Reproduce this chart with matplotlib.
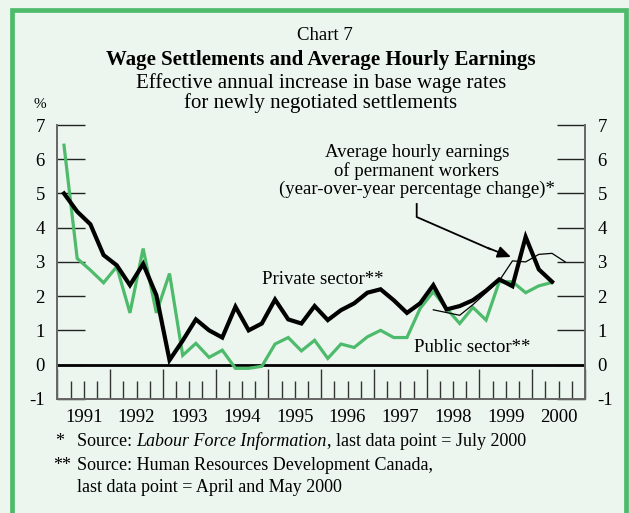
import matplotlib
matplotlib.use("Agg")
import matplotlib.pyplot as plt
from matplotlib.patches import Rectangle
from matplotlib.transforms import blended_transform_factory
import numpy as np

plt.rcParams['font.family'] = ['Liberation Serif', 'DejaVu Serif']
plt.rcParams['axes.unicode_minus'] = False

# Quarterly data, 1991Q1 .. 2000Q2
private_sector = [5.0, 4.47, 4.1, 3.2, 2.9, 2.32, 2.94, 2.03, 0.13, 0.7,
                  1.32, 1.0, 0.79, 1.69, 1.0, 1.2, 1.9, 1.32, 1.2, 1.71,
                  1.3, 1.59, 1.79, 2.1, 2.2, 1.88, 1.51, 1.79, 2.32, 1.61,
                  1.71, 1.88, 2.16, 2.49, 2.29, 3.73, 2.78, 2.42]
public_sector = [6.41, 3.1, 2.76, 2.39, 2.86, 1.51, 3.39, 1.51, 2.66, 0.27,
                 0.62, 0.21, 0.42, -0.11, -0.11, -0.05, 0.6, 0.79, 0.4, 0.71,
                 0.18, 0.6, 0.5, 0.81, 1.0, 0.79, 0.79, 1.64, 2.13, 1.64,
                 1.2, 1.67, 1.3, 2.42, 2.42, 2.1, 2.3, 2.4]
# Average hourly earnings of permanent workers, 1998Q1 .. 2000Q3
hourly_earnings = [1.6, 1.52, 1.44, 1.75, 2.1, 2.45, 3.03, 3.0, 3.22, 3.25, 3.0]

start_year = 1991
years = list(range(1991, 2001))
yticks = list(range(-1, 8))

W, H = 629, 513
fig = plt.figure(figsize=(W / 100, H / 100), dpi=100)
bg = '#ecf6ee'
green_border = '#4dbb6b'
fig.patch.set_facecolor(bg)
fig.add_artist(Rectangle((12 / W, -0.05), (626 - 12) / W, 1.05 - 9.5 / H,
                         transform=fig.transFigure, fill=False,
                         edgecolor=green_border, linewidth=3.4))

ax_l, ax_r = 57.4 / W, 585 / W
ax_t, ax_b = 1 - 125 / H, 1 - 398.8 / H
ax = fig.add_axes([ax_l, ax_b, ax_r - ax_l, ax_t - ax_b])
ax.set_facecolor(bg)

t_q = start_year + 0.125 + 0.25 * np.arange(len(private_sector))
t_h = start_year + 0.125 + 0.25 * (28 + np.arange(len(hourly_earnings)))

green = '#4dbb6b'
ax.axhline(0, color='black', lw=2.0, zorder=2)
ax.plot(t_q, public_sector, color=green, lw=2.3, zorder=3, solid_joinstyle='miter')
ax.plot(t_h, hourly_earnings, color='black', lw=0.9, zorder=4)
ax.plot(t_q, private_sector, color='black', lw=3.0, zorder=5, solid_joinstyle='miter')

ax.set_xlim(1991, 2001)
ax.set_ylim(-1, 7)

for s in ['left', 'right', 'bottom']:
    ax.spines[s].set_color('#666666')
    ax.spines[s].set_linewidth(1.4)
ax.spines['top'].set_visible(False)

ax.set_yticks(yticks)
ax.tick_params(axis='y', which='major', direction='in', length=20, width=1.0,
               color='#222222', labelsize=13.5, pad=9,
               left=True, right=True, labelleft=True, labelright=True)

ax.set_xticks(np.arange(1991, 2002, 1))
ax.set_xticks(np.arange(1991, 2001.01, 0.25), minor=True)
ax.tick_params(axis='x', which='major', direction='in', length=21.5, width=1.0,
               color='#333333', labelbottom=False)
ax.tick_params(axis='x', which='minor', direction='in', length=13, width=1.0,
               color='#333333')

tr = blended_transform_factory(ax.transData, fig.transFigure)
for y in years:
    ax.text(y + 0.5, 1 - 418 / H, str(y), transform=tr, ha='center', va='center',
            fontsize=13.5)

fig.text(40 / W, 1 - 104 / H, '%', fontsize=11, ha='center', va='center')

fig.text(325 / W, 1 - 36 / H, 'Chart 7', fontsize=13.5, ha='center', va='center')
fig.text(321 / W, 1 - 60 / H, 'Wage Settlements and Average Hourly Earnings',
         fontsize=15, fontweight='bold', ha='center', va='center')
fig.text(321 / W, 1 - 83 / H, 'Effective annual increase in base wage rates',
         fontsize=15, ha='center', va='center')
fig.text(321 / W, 1 - 103 / H, 'for newly negotiated settlements',
         fontsize=15, ha='center', va='center')

# series labels
ax.annotate('Private sector**', xy=(262 / W, 1 - 279 / H), xycoords='figure fraction',
            fontsize=13.5, ha='left', va='center')
ax.annotate('Public sector**', xy=(414 / W, 1 - 348 / H), xycoords='figure fraction',
            fontsize=13.5, ha='left', va='center')
ax.annotate('Average hourly earnings\nof permanent workers\n(year-over-year percentage change)*',
            xy=(417 / W, 1 - 171 / H), xycoords='figure fraction',
            fontsize=13.5, ha='center', va='center', linespacing=1.05)
# arrow
ax.plot([416.7 / W, 416.7 / W, 490 / W], [1 - 204 / H, 1 - 217 / H, 1 - 249 / H],
        transform=fig.transFigure, color='black', lw=1.3, clip_on=False)
ax.annotate('', xy=(511 / W, 1 - 257 / H), xytext=(488 / W, 1 - 248 / H),
            xycoords='figure fraction', textcoords='figure fraction',
            arrowprops=dict(arrowstyle='-|>,head_length=0.8,head_width=0.35',
                            color='black', lw=1.3, shrinkA=0, shrinkB=0))

# footnotes
fig.text(55 / W, 1 - 441 / H, '*', fontsize=13, ha='left', va='center')
t1 = fig.text(77 / W, 1 - 441 / H, 'Source: ', fontsize=13, ha='left', va='center')
fig.canvas.draw()
r = fig.canvas.get_renderer()
bb = t1.get_window_extent(r)
t2 = fig.text(bb.x1 / W, 1 - 441 / H, 'Labour Force Information', fontsize=13,
              ha='left', va='center', style='italic')
bb2 = t2.get_window_extent(r)
fig.text(bb2.x1 / W, 1 - 441 / H, ', last data point = July 2000', fontsize=13,
         ha='left', va='center')
fig.text(53 / W, 1 - 465 / H, '**', fontsize=13, ha='left', va='center')
fig.text(77 / W, 1 - 465 / H, 'Source: Human Resources Development Canada,',
         fontsize=13, ha='left', va='center')
fig.text(77 / W, 1 - 488 / H, 'last data point = April and May 2000',
         fontsize=13, ha='left', va='center')

fig.savefig('out.png', dpi=100, facecolor=bg)
